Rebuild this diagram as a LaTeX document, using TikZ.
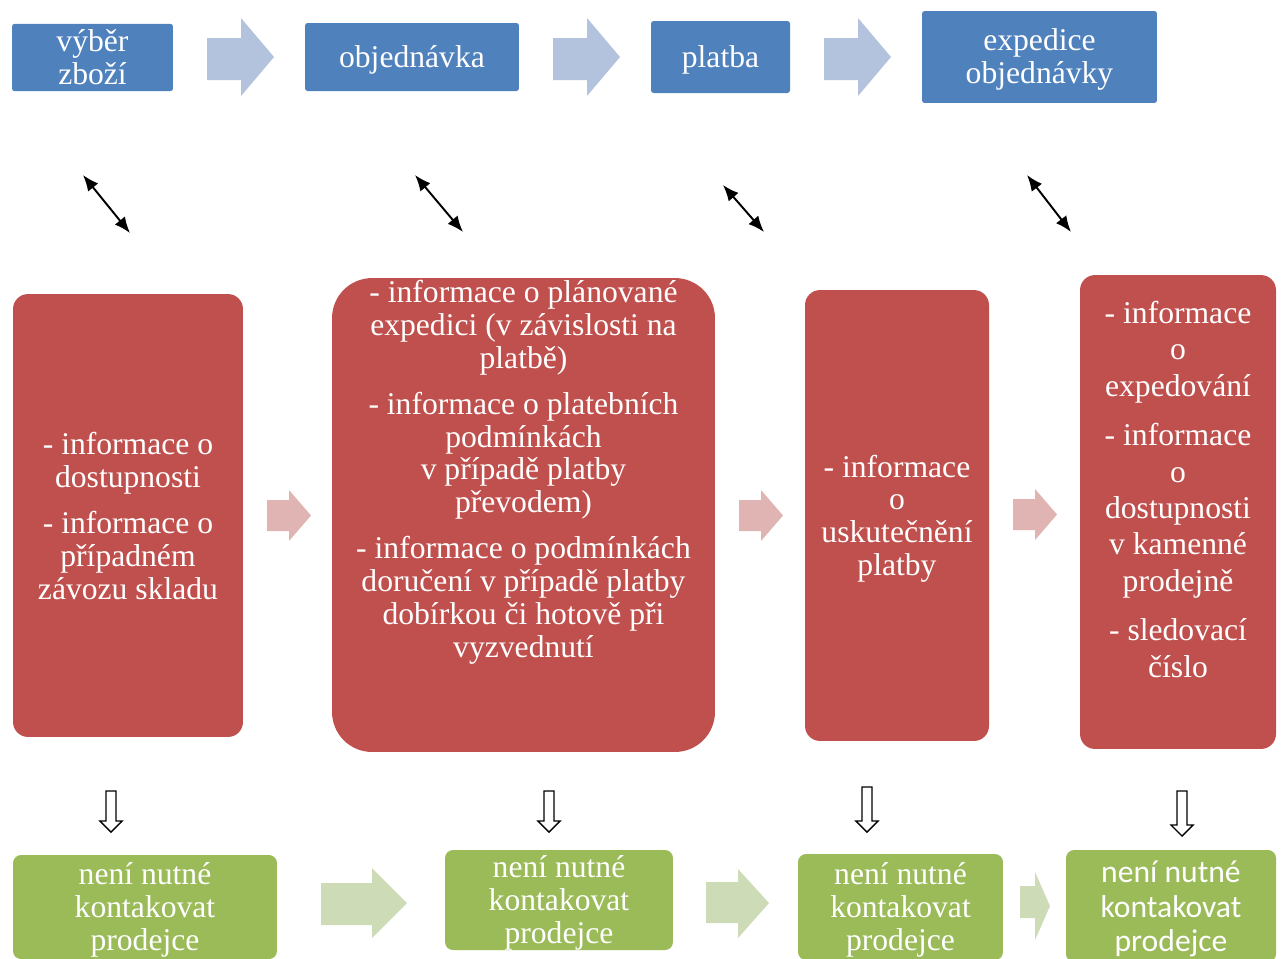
\documentclass[tikz,border=0pt]{standalone}
\usepackage{fontspec}
\setmainfont{Liberation Serif}
\newfontfamily\calibrifont{Carlito}
\usepackage{tikz}
\usetikzlibrary{arrows.meta}
\usepackage{xcolor}
\definecolor{stepblue}{RGB}{79,129,189}
\definecolor{stepblueL}{RGB}{180,195,221}
\definecolor{infored}{RGB}{192,80,77}
\definecolor{inforedL}{RGB}{224,180,179}
\definecolor{kontgreen}{RGB}{155,187,89}
\definecolor{kontgreenL}{RGB}{205,219,183}
% line struts (first / last line)
\newcommand{\ppup}{\vrule width 0pt height 15.7pt\relax}
\newcommand{\ppdn}{\vrule width 0pt height 0pt depth 3.9pt\relax}

\begin{document}
\begin{tikzpicture}[x=0.02cm, y=-0.02cm,
  txt/.style={text=white, align=center, inner sep=0pt,
    font=\fontsize{18}{18.7}\selectfont},
  stepbox/.style={txt, fill=stepblue, rounded corners=1.5pt},
  infobox/.style={fill=infored, rounded corners=0.3cm, inner sep=0pt},
  kontbox/.style={txt, fill=kontgreen, rounded corners=0.16cm},
  dbl/.style={{Latex[length=0.32cm, width=0.26cm]}-{Latex[length=0.32cm, width=0.26cm]}, line width=1.1pt},
  hol/.style={draw=black, fill=white, line width=0.8pt}
]
\useasboundingbox (0,0) rectangle (1283,958);
\clip (0,0) rectangle (1283,958);

% top row
\node[stepbox, minimum width=3.22cm, minimum height=1.30cm] (vyber) at (92.5,57.5) {\ppup výběr\\ zboží\ppdn};
\node[stepbox, minimum width=4.28cm, minimum height=1.36cm] (objed) at (412,57) {\ppup objednávka};
\node[stepbox, minimum width=2.78cm, minimum height=1.44cm] (platba) at (720.5,57) {\ppup platba};
\node[stepbox, minimum width=4.70cm, minimum height=1.84cm] (exped) at (1039.5,57) {\ppup expedice\\ objednávky};
\foreach \x in {207,553,824}
  \fill[stepblueL] (\x,38) -- ({\x+34},38) -- ({\x+34},18) -- ({\x+67},57)
    -- ({\x+34},96) -- ({\x+34},80) -- (\x,80) -- cycle;

% vazby
\coordinate (va1) at (83,175);  \coordinate (vb1) at (130,233);
\coordinate (va2) at (415,175); \coordinate (vb2) at (463,232);
\coordinate (va3) at (723,185); \coordinate (vb3) at (764,232);
\coordinate (va4) at (1027,175); \coordinate (vb4) at (1071,232);
\draw[dbl] (va1) -- (vb1); \draw[dbl] (va2) -- (vb2);
\draw[dbl] (va3) -- (vb3); \draw[dbl] (va4) -- (vb4);

% information
\node[infobox, minimum width=4.60cm, minimum height=8.86cm] (info1) at (128,515.5) {};
\node[infobox, rounded corners=0.8cm, minimum width=7.66cm, minimum height=9.48cm] (info2) at (523.5,515) {};
\node[infobox, minimum width=3.68cm, minimum height=9.02cm] (info3) at (897,515.5) {};
\node[infobox, minimum width=3.92cm, minimum height=9.48cm] (info4) at (1178,512) {};

\node[txt] (info1t) at (128,516.5) {\ppup - informace o\\ dostupnosti\\[7.5pt]
  - informace o\\ případném\\ závozu skladu\ppdn};
\node[txt] (info2t) at (523.5,469.5) {\ppup - informace o plánované\\ expedici (v závislosti na\\ platbě)\\[7.5pt]
  - informace o platebních\\ podmínkách\\ v~případě platby\\ převodem)\\[7.5pt]
  - informace o podmínkách\\ doručení v případě platby\\ dobírkou či hotově při\\ vyzvednutí};
\node[txt] (info3t) at (897,516) {\ppup - informace\\ o\\ uskutečnění\\ platby};
\node[txt, font=\fontsize{18}{20.7}\selectfont] (info4t) at (1178,490) {\ppup - informace\\ o\\ expedování\\[7.5pt]
  - informace\\ o\\ dostupnosti\\ v~kamenné\\ prodejně\\[7.5pt]
  - sledovací\\ číslo\ppdn};

\foreach \x/\y in {267/515.5,739/515.5,1013/514.5}
  \fill[inforedL] (\x,{\y-15.5}) -- ({\x+22},{\y-15.5}) -- ({\x+22},{\y-25.5}) -- ({\x+44},\y)
    -- ({\x+22},{\y+25.5}) -- ({\x+22},{\y+15.5}) -- (\x,{\y+15.5}) -- cycle;

% down arrows
\foreach \cx/\ty/\by in {111/791/832, 549/791/832, 867/787/832, 1182/791/836}
  \draw[hol] ({\cx-5},\ty) -- ({\cx+5},\ty) -- ({\cx+5},{\by-11}) -- ({\cx+11},{\by-11})
    -- (\cx,\by) -- ({\cx-11},{\by-11}) -- ({\cx-5},{\by-11}) -- cycle;

% bottom row
\node[kontbox, minimum width=5.28cm, minimum height=2.08cm] (kont1) at (145,907) {\ppup není nutné\\ kontakovat\\ prodejce};
\node[kontbox, minimum width=4.56cm, minimum height=1.92cm] (kont2) at (559,900) {\ppup není nutné\\ kontakovat\\ prodejce};
\node[kontbox, minimum width=4.10cm, minimum height=2.12cm] (kont3) at (900.5,907) {\ppup není nutné\\ kontakovat\\ prodejce};
\node[kontbox, minimum width=4.20cm, minimum height=2.24cm,
  font=\calibrifont\fontsize{18}{19.8}\selectfont] (kont4) at (1171,906) {\ppup není nutné\\ kontakovat\\ prodejce};
\fill[kontgreenL] (321,883) -- (372,883) -- (372,868) -- (407,903) -- (372,938) -- (372,925) -- (321,925) -- cycle;
\fill[kontgreenL] (706,882) -- (738,882) -- (738,869) -- (769,903) -- (738,938) -- (738,923) -- (706,923) -- cycle;
\fill[kontgreenL] (1020,886) -- (1035,886) -- (1035,872) -- (1050,906) -- (1035,940) -- (1035,918) -- (1020,918) -- cycle;
\end{tikzpicture}
\end{document}
